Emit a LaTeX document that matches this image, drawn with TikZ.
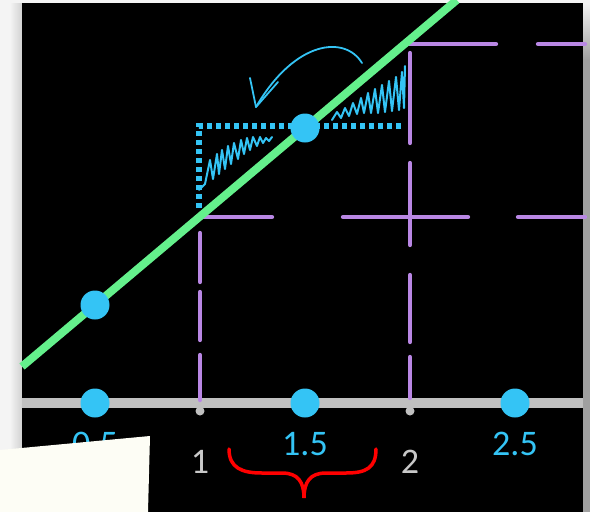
\documentclass[tikz,border=0pt]{standalone}
\usepackage{fontspec}
\setmainfont{Carlito}
\definecolor{cy}{RGB}{52,196,245}
\definecolor{gr}{RGB}{100,240,140}
\definecolor{pu}{RGB}{185,135,228}
\definecolor{ax}{RGB}{192,192,192}
\definecolor{lbl}{RGB}{200,200,200}
\definecolor{bgc}{RGB}{244,244,244}
\definecolor{papr}{RGB}{253,253,245}
\definecolor{edgegray}{RGB}{160,160,160}
\tikzset{
  guide/.style={pu, line width=4.3pt, line cap=round},
  dotc/.style={circle, fill=cy, inner sep=0pt, minimum size=29pt},
  tickdot/.style={circle, fill=ax, inner sep=0pt, minimum size=9pt},
  cylab/.style={text=cy, font=\fontsize{36pt}{40pt}\selectfont, inner sep=0pt},
  graylab/.style={text=lbl, font=\fontsize{36pt}{40pt}\selectfont, inner sep=0pt},
  squig/.style={cy, line width=2pt, line join=round, line cap=round},
}
\begin{document}
\begin{tikzpicture}[x=1pt,y=-1pt]
\useasboundingbox (0,0) rectangle (590,512);
% background
\fill[bgc] (0,0) rectangle (590,512);
\shade[left color=bgc, right color=black!18] (10,3) rectangle (22,512);
\fill[edgegray] (583,12) rectangle (590,512);
\shade[top color=bgc, bottom color=edgegray] (583,3) rectangle (590,60);
% black panel
\fill[black] (22,3) rectangle (583,512);
% axis
\draw[ax, line width=10pt] (22,403) -- (583,403);
\node[tickdot] (t1) at (200,411) {};
\node[tickdot] (t2) at (410,411) {};
% purple guides
\draw[guide] (200,217) -- (272,217);
\draw[guide] (343,217) -- (468,217);
\draw[guide] (518,217) -- (585,217);
\draw[guide] (408,44) -- (496,44);
\draw[guide] (538,44) -- (585,44);
\draw[guide] (200,233) -- (200,282);
\draw[guide] (200,292) -- (200,340);
\draw[guide] (200,355) -- (200,400);
\draw[guide] (410,53) -- (410,143);
\draw[guide] (410,163) -- (410,245);
\draw[guide] (410,275) -- (410,342);
\draw[guide] (410,357) -- (410,398);
% dotted triangle legs
\draw[cy, line width=5.5pt, dash pattern=on 5pt off 4pt] (199,208) -- (199,126) -- (404,126);
% squiggles
\draw[squig] (199,190) -- (205,184) -- (210,160) -- (213,179) -- (217,154) -- (219,174) -- (222,150) -- (225,169) -- (228,146) -- (231,164) -- (234,143) -- (238,159) -- (241,140) -- (244,154) -- (247,138) -- (250,150) -- (253,137) -- (257,146) -- (260,137) -- (263,143) -- (266,138) -- (269,141) -- (272,137);
\draw[squig] (332,120) -- (337,112) -- (341,118) -- (345,108) -- (349,116) -- (353,103) -- (357,114) -- (361,98) -- (364,113) -- (368,93) -- (371,113) -- (375,89) -- (378,113) -- (382,85) -- (385,112) -- (389,81) -- (392,111) -- (396,77) -- (399,110) -- (402,72) -- (404,108) -- (405,66);
% green line
\coordinate (g0) at (22,366.5);
\coordinate (g1) at (456.8,0);
\draw[gr, line width=8pt] (g0) -- (g1);
% dots
\node[dotc] (p05) at (95,305) {};
\node[dotc] (p15) at (305,128) {};
\node[dotc] (a05) at (95,403) {};
\node[dotc] (a15) at (305,403) {};
\node[dotc] (a25) at (515,403) {};
% arrow
\draw[cy, line width=1.8pt, line cap=round, line join=round] (362,63) .. controls (345,35) and (295,40) .. (256,107);
\draw[cy, line width=1.8pt, line cap=round, line join=round] (250,78) -- (256,107) -- (278,82);
% labels
\node[cylab] (l05) at (95,444) {0.5};
\node[cylab] (l15) at (305,444) {1.5};
\node[cylab] (l25) at (515,444) {2.5};
\node[graylab] (l1) at (200,462) {1};
\node[graylab] (l2) at (410,462) {2};
% brace
\draw[red, line width=3.5pt, line cap=round] (229,449) .. controls (229,468) and (242,473) .. (262,473) -- (282,473) .. controls (298,473) and (304,482) .. (304,498) .. controls (304,482) and (310,473) .. (326,473) -- (346,473) .. controls (366,473) and (376,468) .. (376,449);
% paper note
\fill[black, opacity=0.25] (0,453) -- (152,439) -- (151,512) -- (0,512) -- cycle;
\fill[papr] (0,450) -- (150,436) -- (148,512) -- (0,512) -- cycle;
\end{tikzpicture}
\end{document}
